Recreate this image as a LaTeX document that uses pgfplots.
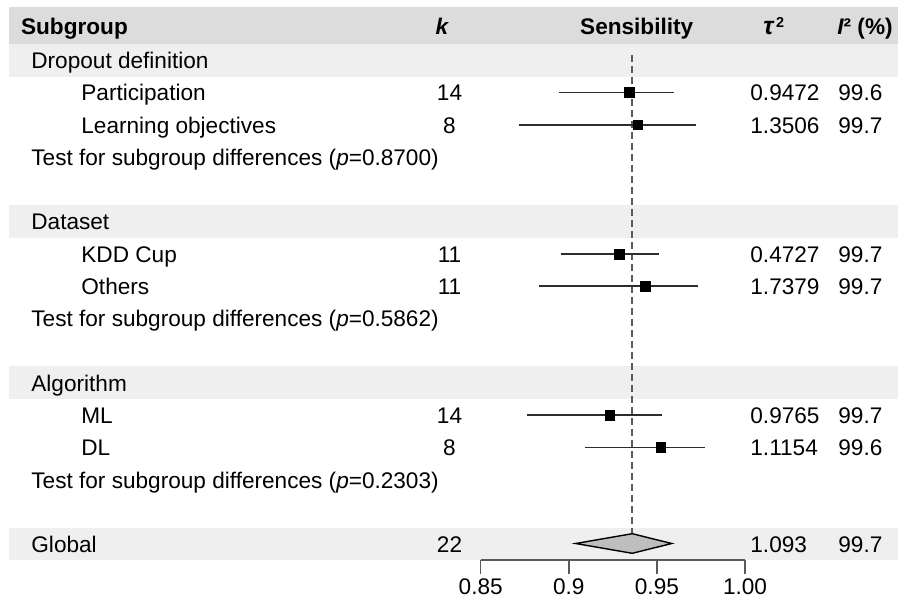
\documentclass[border=0pt]{standalone}
\usepackage{pgfplots}
\pgfplotsset{compat=1.18}
\usepackage{fontspec}
\setmainfont{Liberation Sans}
\definecolor{hdr}{RGB}{220,220,220}
\definecolor{band}{RGB}{239,239,239}
\definecolor{refc}{RGB}{90,90,90}
\definecolor{cic}{RGB}{45,45,45}
\definecolor{dia}{RGB}{190,190,190}
\pgfplotsset{fp/.style={x filter/.expression={480.7+(x-0.85)*1762}}}
\begin{document}
\begin{tikzpicture}[font=\fontsize{11.3}{13}\selectfont, every node/.append style={inner sep=0pt}]
\begin{axis}[name=main, scale only axis, width=449pt, height=301.5pt,
  xmin=0, xmax=898, ymin=0, ymax=603, y dir=reverse, hide axis, clip=false]
\path (axis cs:0,0) rectangle (axis cs:898,603);
% bands
\fill[hdr]  (axis cs:9,6.7)   rectangle (axis cs:898,43.8);
\fill[band] (axis cs:9,43.8)  rectangle (axis cs:898,76.8);
\fill[band] (axis cs:9,205.1) rectangle (axis cs:898,238.1);
\fill[band] (axis cs:9,366.5) rectangle (axis cs:898,399.5);
\fill[band] (axis cs:9,527.9) rectangle (axis cs:898,560.0);
% header
\node[anchor=base west] at (axis cs:20.7,35) {\bfseries Subgroup};
\node[anchor=base] at (axis cs:442,35) {\bfseries\itshape k};
\node[anchor=base] at (axis cs:636.7,35) {\bfseries Sensibility};
\node[anchor=base west] at (axis cs:763,35) {\bfseries{\itshape\fontsize{12.5}{13}\selectfont τ}\kern1.2pt\raisebox{3.6pt}{\fontsize{7.2}{8}\selectfont 2}};
\node[anchor=base west] at (axis cs:837,35) {\bfseries{\itshape I}²~(\%)};
% group 1
\node[anchor=base west] at (axis cs:31,68.6) {Dropout definition};
\node[anchor=base west] at (axis cs:81,100.9) {Participation};
\node[anchor=base west] at (axis cs:81,133.1) {Learning objectives};
\node[anchor=base west] at (axis cs:31,165.4) {Test for subgroup differences (\textit{p}\/=0.8700)};
\node[anchor=base] at (axis cs:449.5,100.9) {14};
\node[anchor=base] at (axis cs:449.5,133.1) {8};
\node[anchor=base west] at (axis cs:750,100.9) {0.9472};
\node[anchor=base west] at (axis cs:750,133.1) {1.3506};
\node[anchor=base west] at (axis cs:838,100.9) {99.6};
\node[anchor=base west] at (axis cs:838,133.1) {99.7};
% group 2
\node[anchor=base west] at (axis cs:31,229.9) {Dataset};
\node[anchor=base west] at (axis cs:81,262.2) {KDD Cup};
\node[anchor=base west] at (axis cs:81,294.5) {Others};
\node[anchor=base west] at (axis cs:31,326.8) {Test for subgroup differences (\textit{p}\/=0.5862)};
\node[anchor=base] at (axis cs:449.5,262.2) {11};
\node[anchor=base] at (axis cs:449.5,294.5) {11};
\node[anchor=base west] at (axis cs:750,262.2) {0.4727};
\node[anchor=base west] at (axis cs:750,294.5) {1.7379};
\node[anchor=base west] at (axis cs:838,262.2) {99.7};
\node[anchor=base west] at (axis cs:838,294.5) {99.7};
% group 3
\node[anchor=base west] at (axis cs:31,391.3) {Algorithm};
\node[anchor=base west] at (axis cs:81,423.6) {ML};
\node[anchor=base west] at (axis cs:81,455.8) {DL};
\node[anchor=base west] at (axis cs:31,488.1) {Test for subgroup differences (\textit{p}\/=0.2303)};
\node[anchor=base] at (axis cs:449.5,423.6) {14};
\node[anchor=base] at (axis cs:449.5,455.8) {8};
\node[anchor=base west] at (axis cs:750,423.6) {0.9765};
\node[anchor=base west] at (axis cs:750,455.8) {1.1154};
\node[anchor=base west] at (axis cs:838,423.6) {99.7};
\node[anchor=base west] at (axis cs:838,455.8) {99.6};
% global
\node[anchor=base west] at (axis cs:31,552.4) {Global};
\node[anchor=base] at (axis cs:449.5,552.4) {22};
\node[anchor=base west] at (axis cs:750,552.4) {1.093};
\node[anchor=base west] at (axis cs:838,552.4) {99.7};
% reference line
\addplot[fp, refc, line width=0.75pt, dash pattern=on 3.3pt off 2.2pt] coordinates {(0.936,55) (0.936,553)};
% confidence intervals
\addplot[fp, cic, line width=0.8pt] coordinates {(0.8946,92.6) (0.9599,92.6)};
\addplot[fp, cic, line width=0.8pt] coordinates {(0.8719,124.8) (0.9722,124.8)};
\addplot[fp, cic, line width=0.8pt] coordinates {(0.8954,253.9) (0.9513,253.9)};
\addplot[fp, cic, line width=0.8pt] coordinates {(0.8829,286.2) (0.9735,286.2)};
\addplot[fp, cic, line width=0.8pt] coordinates {(0.8764,415.3) (0.9531,415.3)};
\addplot[fp, cic, line width=0.8pt] coordinates {(0.9092,447.5) (0.9773,447.5)};
% point estimates
\addplot[fp, only marks, mark=square*, mark size=2.45pt, mark options={black, line width=0.2pt}] coordinates {
(0.9343,92.6) (0.9391,124.8) (0.9285,253.9) (0.9432,286.2) (0.9232,415.3) (0.9521,447.5)};
% global diamond
\addplot[fp, fill=dia, draw=black, line width=0.7pt] coordinates {(0.9039,543.5) (0.936,533.7) (0.9584,543.5) (0.936,553.3)} -- cycle;
\coordinate (tk) at (axis cs:480.7,560);
\end{axis}
\begin{axis}[at={(tk)}, anchor=south west, scale only axis, width=132.15pt, height=10pt,
  xmin=0.85, xmax=1.0, ymin=0, ymax=1, axis x line*=bottom, axis y line=none,
  xtick={0.85,0.9,0.95,1.0}, xticklabels={0.85,0.9,0.95,1.00},
  tick align=outside, major tick length=7pt,
  axis line style={-, refc, line width=0.75pt}, tick style={refc, line width=0.75pt},
  xticklabel style={font=\fontsize{11.3}{13}\selectfont, anchor=base, yshift=-10.4pt},
  /pgf/number format/assume math mode=true]
\addplot[draw=none] coordinates {(0.9,0.5)};
\end{axis}
\end{tikzpicture}
\end{document}
